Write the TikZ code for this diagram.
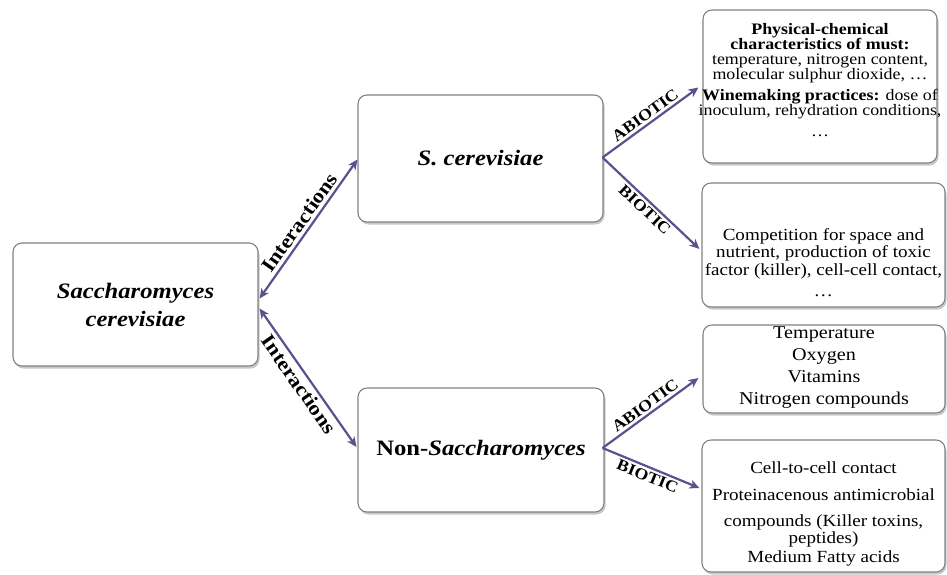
\documentclass[tikz,border=0pt]{standalone}
\usepackage{fontspec}
\setmainfont{Liberation Serif}[FakeStretch=1.12]
\usetikzlibrary{arrows.meta,shadows,calc}
\definecolor{arr}{RGB}{96,78,142}
\definecolor{boxline}{RGB}{130,130,130}
\begin{document}
\begin{tikzpicture}[x=1pt,y=-1pt,
 box/.style={draw=boxline, line width=1.1pt, rounded corners=9pt, fill=white,
   drop shadow={shadow xshift=1.5pt, shadow yshift=-2.5pt, opacity=0.3, fill=black!70},
   inner sep=0pt, align=center},
 txt/.style={inner sep=0pt, align=center},
 tip/.style={Stealth[length=10pt,width=9pt,inset=3pt]},
 conn/.style={draw=arr, line width=2.2pt, -{Stealth[length=10pt,width=9pt,inset=3pt]}},
 dconn/.style={draw=arr, line width=2.2pt, {Stealth[length=10pt,width=9pt,inset=3pt]}-{Stealth[length=10pt,width=9pt,inset=3pt]}},
 lab/.style={font=\bfseries\fontsize{16}{16}\selectfont, sloped, inner sep=2.5pt},
 ilab/.style={font=\bfseries\fontsize{20}{20}\selectfont, sloped, inner sep=3pt},
 mainfont/.style={font=\bfseries\fontsize{22}{28}\selectfont}
]
\useasboundingbox (0,0) rectangle (947,574);
\fill[white] (0,0) rectangle (947,574);

\node[box, mainfont, minimum width=245pt, minimum height=123pt] (L) at (135.5,304.5)
  {\textit{Saccharomyces}\\\textit{cerevisiae}};
\node[box, mainfont, minimum width=245pt, minimum height=127pt] (SC) at (480.5,158.5)
  {\textit{S. cerevisiae}};
\node[box, mainfont, minimum width=246pt, minimum height=124pt] (NS) at (481,450)
  {Non-\textit{Saccharomyces}};

\node[box, minimum width=234pt, minimum height=153pt] (R1) at (820,86.5) {};
\node[box, minimum width=243pt, minimum height=124pt] (R2) at (823.5,245) {};
\node[box, minimum width=242pt, minimum height=88pt] (R3) at (824,369) {};
\node[box, minimum width=243pt, minimum height=132pt] (R4) at (823.5,506) {};

\node[txt, font=\fontsize{16}{15}\selectfont] (R1t) at (820,80.5)
  {\textbf{Physical-chemical}\\\textbf{characteristics of must:}\\temperature, nitrogen content,\\molecular sulphur dioxide, …\\[6pt]\textbf{Winemaking practices:} dose of\\inoculum, rehydration conditions,\\[6pt]…};
\node[txt, font=\fontsize{17}{17.5}\selectfont] (R2t) at (823.5,262.5)
  {Competition for space and\\nutrient, production of toxic\\factor (killer), cell-cell contact,\\[4pt]…};
\node[txt, font=\fontsize{18}{22}\selectfont] (R3t) at (824,368)
  {Temperature\\Oxygen\\Vitamins\\Nitrogen compounds};
\node[txt, font=\fontsize{17}{15}\selectfont] (R4t) at (823.5,514)
  {Cell-to-cell contact\\[12pt]Proteinacenous antimicrobial\\[11pt]compounds (Killer toxins,\\peptides)\\[3pt]Medium Fatty acids};

\draw[dconn] ($(L.east)+(1,-6)$) -- ($(SC.west)+(0,1)$)
  node[ilab, midway, above] {Interactions};
\draw[dconn] ($(L.east)+(1,4)$) -- ($(NS.west)+(-1,-3)$)
  node[ilab, midway, below] {Interactions};

\coordinate (v1) at ($(SC.east)+(-1,-1)$);
\coordinate (v2) at ($(NS.east)+(-2,-2)$);
\draw[conn] (v1) -- ($(R1.west)+(-4,1)$) node[lab, midway, above] {ABIOTIC};
\draw[conn] (v1) -- ($(R2.west)+(-2,4)$) node[lab, midway, below] {BIOTIC};
\draw[conn] (v2) -- ($(R3.west)+(-4,9)$) node[lab, midway, above] {ABIOTIC};
\draw[conn] (v2) -- ($(R4.west)+(-2,-18)$) node[lab, midway, below] {BIOTIC};
\end{tikzpicture}
\end{document}
